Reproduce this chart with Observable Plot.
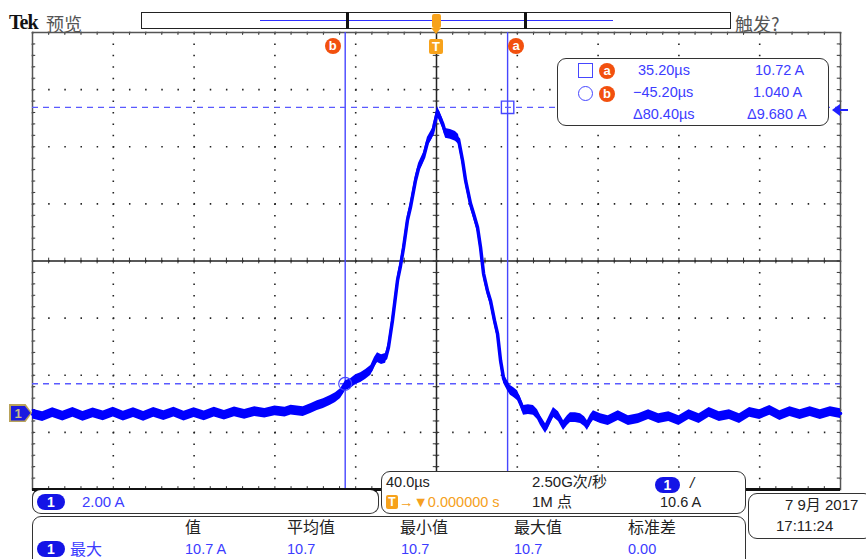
<!DOCTYPE html>
<html><head><meta charset="utf-8">
<script src="https://cdn.jsdelivr.net/npm/d3@7"></script>
<script src="https://cdn.jsdelivr.net/npm/@observablehq/plot@0.6"></script>
<style>
body{margin:0;background:#fff;}
#wrap{position:relative;width:866px;height:559px;overflow:hidden;background:#fff;font-family:"Liberation Sans","Noto Sans CJK SC",sans-serif;}
#wrap svg{position:absolute;left:0;top:0;}
.abs{position:absolute;white-space:nowrap;line-height:1;}
.box{position:absolute;border:1.5px solid #333;border-radius:9px;background:#fff;box-sizing:border-box;}
.blue{color:#3c3cff;}
.dark{color:#222;}
.pill{position:absolute;background:#1414e6;color:#fff;border-radius:9px;font-weight:bold;text-align:center;font-size:14px;line-height:16px;}
.orb{position:absolute;background:#f2500e;color:#fff;border-radius:50%;font-weight:bold;text-align:center;font-size:13px;line-height:16px;width:16px;height:16px;}
</style></head><body><div id="wrap"></div>
<script>
// ---- data ----
const timeUs = [
 -200,-195,-190,-185,-180,-175,-170,-165,-160,-155,-150,-145,-140,-135,-130,-125,-120,-115,-110,-105,-100,-95,-90,-85,-80,-75,
 -72,-66,-62,-59,-56,-52.5,-50,-47.5,-45,-42.5,-40,-37.5,-35,-32.5,-30.7,-29.2,-27.2,-25.2,-23.8,-21.8,-19.3,-17.8,-16.3,-14.4,-12.9,-10.4,-8.9,-6.4,-4.5,-2.0,
 0.5,3.0,4.5,6.9,9.4,10.9,12.9,14.4,16.8,18.3,20.3,21.8,23.3,25.2,26.7,28.7,30.2,31.7,33.2,35.1,36.6,38.1,40.1,41.6,43.1,45.5,48.0,50.0,51.5,54.0,55.9,57.9,60.4,62.9,64.8,66.3,68.8,71.3,73.3,74.7,76.2,77.7,81.2,
 85,90,95,100,105,110,115,120,125,130,135,140,145,150,155,160,165,170,175,180,185,190,195,200];
const currentA = [
 -0.02,-0.11,0.03,-0.09,0.04,-0.10,0.02,-0.08,0.05,-0.09,0.03,-0.10,0.04,-0.07,0.05,-0.09,0.03,-0.08,0.05,-0.06,0.06,-0.03,0.07,0.01,0.09,0.05,
 0.12,0.07,0.18,0.28,0.35,0.46,0.56,0.70,0.98,1.05,1.19,1.26,1.37,1.51,1.79,1.96,1.89,1.93,2.31,3.26,4.66,5.18,5.81,6.76,7.22,8.16,8.58,8.97,9.49,9.81,
 10.58,10.16,9.81,9.77,9.70,9.60,8.86,8.16,7.36,7.01,6.52,5.81,4.90,4.31,3.96,3.26,2.80,1.86,1.23,0.98,0.81,0.74,0.63,0.39,0.11,0.14,0.11,-0.04,-0.25,-0.53,-0.25,0.04,-0.11,-0.42,-0.25,-0.14,-0.14,-0.18,-0.28,-0.42,-0.21,-0.07,-0.18,
 -0.25,-0.07,-0.25,-0.18,-0.04,-0.18,-0.11,-0.25,-0.04,-0.18,0.04,-0.11,-0.04,-0.18,0.04,-0.04,0.11,-0.07,0.07,-0.04,0.07,-0.04,0.07,0.00];

const cursorNames = ["a","b"];
const cursorTimes = [35.20, -45.20];      // µs
const cursorLevels = [10.72, 1.040];      // A
const triggerLevel = 10.6;                // A
const timePerDiv = 40;                    // µs/div
const ampPerDiv = 2;                      // A/div
const screenCenterA = 5.34;               // A at vertical screen centre

const readTimes = ["35.20µs","−45.20µs","Δ80.40µs"];
const readAmps = ["10.72 A","1.040 A","Δ9.680 A"];
const measHeaders = ["值","平均值","最小值","最大值","标准差"];
const measValues = ["10.7 A","10.7","10.7","10.7","0.00"];

// ---- chart ----
const wave = timeUs.map((t,i)=>({t, a: currentA[i]}));
const noiseA = 0.17;
const xDomain = [-5*timePerDiv, 5*timePerDiv];
const yDomain = [screenCenterA-4*ampPerDiv, screenCenterA+4*ampPerDiv];
const xDivs = d3.range(-5,6).map(k=>k*timePerDiv);
const yDivs = d3.range(-4,5).map(k=>screenCenterA+k*ampPerDiv);
const minorX = d3.range(0,51).map(k=>xDomain[0]+k*timePerDiv/5);
const minorY = d3.range(0,41).map(k=>yDomain[0]+k*ampPerDiv/5);
const blue = "#0000ff", cur = "#4646ff";

const chart = Plot.plot({
  width: 866, height: 559,
  marginTop: 32, marginLeft: 32, marginRight: 26, marginBottom: 70,
  x: {domain: xDomain, axis: null},
  y: {domain: yDomain, axis: null},
  style: {background: "transparent"},
  marks: [
    Plot.ruleX(xDivs, {stroke: "#222", strokeWidth: 1.6, strokeDasharray: "1.5,9.93"}),
    Plot.ruleY(yDivs, {stroke: "#222", strokeWidth: 1.6, strokeDasharray: "1.5,14.66"}),
    Plot.ruleX([0], {stroke: "#222", strokeWidth: 1.5}),
    Plot.ruleY([screenCenterA], {stroke: "#222", strokeWidth: 1.5}),
    Plot.ruleX(minorX, {y1: screenCenterA-0.1, y2: screenCenterA+0.1, stroke: "#333"}),
    Plot.ruleY(minorY, {x1: -1.6, x2: 1.6, stroke: "#333"}),
    Plot.ruleX(minorX, {y1: yDomain[1], y2: yDomain[1]-0.1, stroke: "#333"}),
    Plot.ruleX(minorX, {y1: yDomain[0], y2: yDomain[0]+0.1, stroke: "#333"}),
    Plot.ruleY(minorY, {x1: xDomain[0], x2: xDomain[0]+1.6, stroke: "#333"}),
    Plot.ruleY(minorY, {x1: xDomain[1], x2: xDomain[1]-1.6, stroke: "#333"}),
    Plot.frame({stroke: "#555", strokeWidth: 1.5}),
    Plot.ruleY([yDomain[0]], {stroke: "#111", strokeWidth: 3}),
    Plot.ruleX(cursorTimes, {stroke: cur, strokeWidth: 1.4}),
    Plot.ruleY(cursorLevels, {stroke: "#5a5aff", strokeWidth: 1.4, strokeDasharray: "6,5"}),
    Plot.areaY(wave, {x: "t", y1: d=>d.a-noiseA, y2: d=>d.a+noiseA, fill: blue}),
    Plot.line(wave, {x: "t", y: "a", stroke: blue, strokeWidth: 3.5}),
    Plot.dot([0], {x: ()=>cursorTimes[0], y: ()=>cursorLevels[0], symbol: "square", r: 7, stroke: cur, strokeWidth: 1.4, fill: "none"}),
    Plot.dot([0], {x: ()=>cursorTimes[1], y: ()=>cursorLevels[1], r: 6.5, stroke: cur, strokeWidth: 1.2, fill: "none"})
  ]
});
const wrap = document.getElementById("wrap");
wrap.appendChild(chart);
const xs = chart.scale("x"), ys = chart.scale("y");

function add(cls, html, css){
  const d = document.createElement("div");
  d.className = cls; d.innerHTML = html;
  Object.assign(d.style, css);
  wrap.appendChild(d); return d;
}
const px = v=>v+"px";

// top header
add("abs dark", "Tek", {left: px(9), top: px(11), font: "bold 20px 'Liberation Serif'", letterSpacing: "-1px", color:"#111"});
add("abs", "预览", {left: px(46), top: px(10), font: "18px 'Noto Sans CJK SC'", color: "#555"});
add("abs", "", {left: px(141), top: px(12), width: px(590), height: px(17), border: "1.5px solid #222", boxSizing:"border-box"});
add("abs", "", {left: px(260), top: px(19.5), width: px(353), height: px(1.5), background: "#3030ff"});
add("abs", "", {left: px(346), top: px(12), width: px(2.5), height: px(17), background: "#111"});
add("abs", "", {left: px(524), top: px(12), width: px(2.5), height: px(17), background: "#111"});
add("abs", "", {left: px(xs.apply(0)-4), top: px(14), width: px(9), height: px(14), background: "#f7a21b", borderRadius:"2px"});
add("abs", "", {left: px(xs.apply(0)-5), top: px(28), width: 0, height: 0, borderLeft:"5px solid transparent", borderRight:"5px solid transparent", borderTop:"6px solid #f7a21b"});
add("abs", "触发?", {left: px(735), top: px(10), font: "18px 'Noto Sans CJK SC'", color: "#555"});

// cursor / trigger flags at top of graticule
add("orb", "b", {left: px(xs.apply(cursorTimes[1])-20), top: px(38)});
add("orb", "a", {left: px(xs.apply(cursorTimes[0])+1), top: px(38)});
add("abs", "T", {left: px(xs.apply(0)-7), top: px(39), width: px(14), height: px(15), background: "#f7a21b", color:"#fff", font:"bold 13px 'Liberation Sans'", textAlign:"center", lineHeight:"15px", borderRadius:"2px"});

// readout box
add("box", "", {left: px(557), top: px(58), width: px(272), height: px(68)});
add("abs", "", {left: px(578), top: px(63), width: px(15), height: px(15), border: "1.5px solid "+cur, boxSizing:"border-box"});
add("abs", "", {left: px(578), top: px(86), width: px(15), height: px(15), border: "1.5px solid "+cur, borderRadius:"50%", boxSizing:"border-box"});
add("orb", cursorNames[0], {left: px(599), top: px(63)});
add("orb", cursorNames[1], {left: px(599), top: px(86)});
const rowY = [63, 85, 107];
readTimes.forEach((s,i)=>add("abs blue", s, {left: px(i===0?638:633), top: px(rowY[i]), fontSize: "14.5px"}));
readAmps.forEach((s,i)=>add("abs blue", s, {left: px([755,753,747][i]), top: px(rowY[i]), fontSize: "14.5px"}));

// channel ground marker (left) and trigger level arrow (right)
const g0 = ys.apply(0);
add("abs", "", {left: px(9), top: px(g0-9), width: px(23), height: px(18), background: "#b9a35a", clipPath: "polygon(0 0,72% 0,100% 50%,72% 100%,0 100%)"});
add("abs", "1", {left: px(10.5), top: px(g0-7.5), width: px(20), height: px(15), background: "#1a1ae0", color:"#c9b98a", font:"bold 13px 'Liberation Sans'", lineHeight:"15px", paddingLeft:"4px", boxSizing:"border-box", clipPath: "polygon(0 0,70% 0,100% 50%,70% 100%,0 100%)"});
const gt = ys.apply(triggerLevel);
add("abs", "", {left: px(832), top: px(gt-6), width: 0, height: 0, borderTop:"6px solid transparent", borderBottom:"6px solid transparent", borderRight:"8px solid #2020ff"});
add("abs", "", {left: px(838), top: px(gt-1), width: px(10), height: px(2), background: "#2020ff"});

// bottom panels
add("box", "", {left: px(32), top: px(488), width: px(347), height: px(26), borderTop:"2px solid #111"});
add("pill", "1", {left: px(37), top: px(494), width: px(28), height: px(16)});
add("abs blue", "2.00 A", {left: px(82), top: px(494), fontSize: "15px"});

add("box", "", {left: px(381), top: px(471), width: px(365), height: px(43)});
add("abs dark", "40.0µs", {left: px(386), top: px(475), fontSize: "14.5px"});
add("abs", "T", {left: px(386), top: px(495), width: px(12), height: px(14), background:"#f7a21b", color:"#fff", font:"bold 12px 'Liberation Sans'", textAlign:"center", lineHeight:"14px", borderRadius:"2px"});
add("abs", "→▼0.000000 s", {left: px(399), top: px(495), fontSize: "14.5px", color: "#f5a020"});
add("abs dark", "2.50G次/秒", {left: px(532), top: px(474), fontSize: "15px"});
add("abs dark", "1M 点", {left: px(532), top: px(494), fontSize: "15px"});
add("pill", "1", {left: px(655), top: px(477), width: px(25), height: px(16)});
add("abs dark", "/", {left: px(690), top: px(475), fontSize: "15px", fontStyle:"italic"});
add("abs dark", "10.6 A", {left: px(660), top: px(495), fontSize: "14.5px"});

add("box", "", {left: px(32), top: px(516), width: px(714), height: px(52)});
const colX = [185, 287, 400, 514, 628];
measHeaders.forEach((s,i)=>add("abs dark", s, {left: px(colX[i]), top: px(518), font: "16px 'Noto Sans CJK SC'", lineHeight:"17px"}));
add("pill", "1", {left: px(37), top: px(541), width: px(28), height: px(16)});
add("abs blue", "最大", {left: px(70), top: px(540), font: "16px 'Noto Sans CJK SC'", lineHeight:"17px"});
measValues.forEach((s,i)=>add("abs blue", s, {left: px(colX[i]+(i===2?1:0)), top: px(542), fontSize: "14.5px"}));

add("box", "", {left: px(748), top: px(493), width: px(125), height: px(46)});
add("abs dark", "7 9月 2017", {left: px(785), top: px(497), fontSize: "15px"});
add("abs dark", "17:11:24", {left: px(776), top: px(518), fontSize: "15px"});
</script></body></html>
